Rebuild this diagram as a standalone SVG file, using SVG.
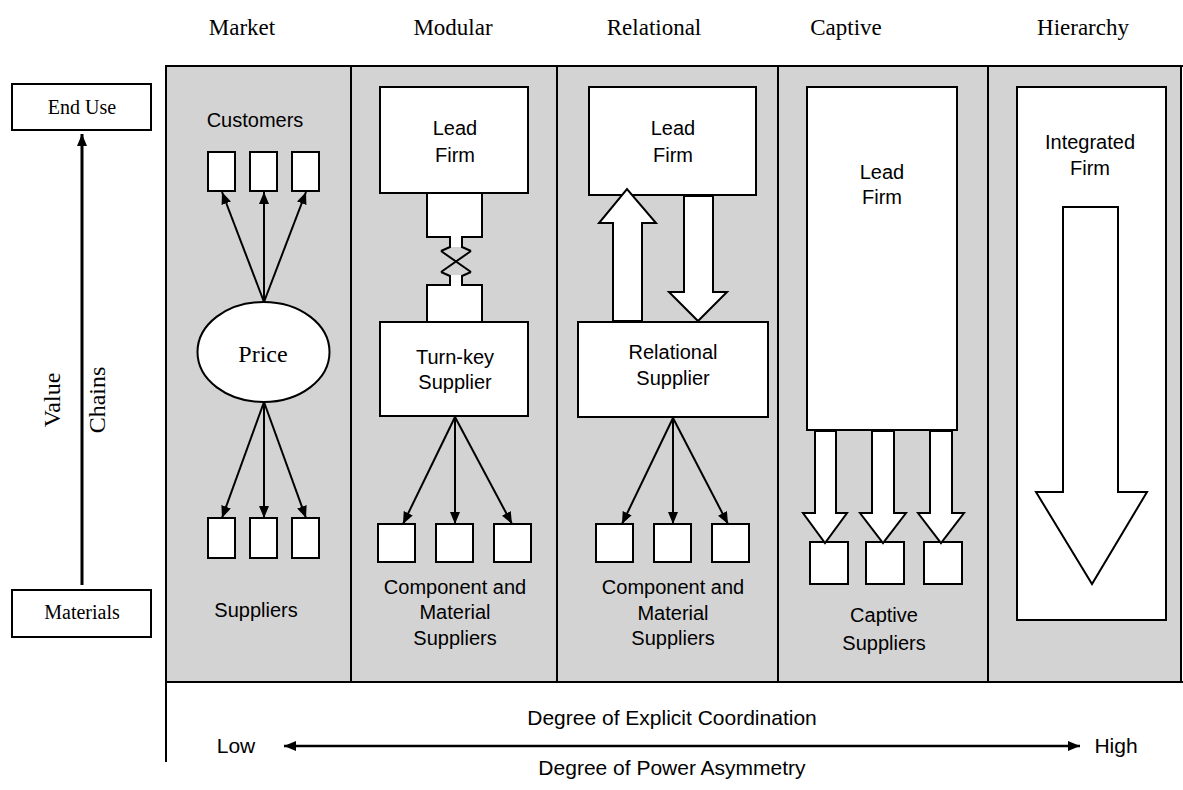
<svg xmlns="http://www.w3.org/2000/svg" width="1183" height="790" viewBox="0 0 1183 790">
<style>
.hdr{font-family:"Liberation Serif","Times New Roman",serif;font-size:23px;fill:#000;text-anchor:middle}
.ser{font-family:"Liberation Serif","Times New Roman",serif;fill:#000;text-anchor:middle}
.lbl{font-family:"Liberation Sans",Arial,sans-serif;font-size:20px;fill:#000;text-anchor:middle}
.bot{font-family:"Liberation Sans",Arial,sans-serif;font-size:21px;fill:#000;text-anchor:middle}
.box{fill:#fff;stroke:#000;stroke-width:2}
.hollow{fill:#fff;stroke:#000;stroke-width:2;stroke-linejoin:miter}
.conn{fill:none;stroke:#000;stroke-width:2}
.frame{fill:none;stroke:#000;stroke-width:2}
</style>
<defs>
<marker id="ah" viewBox="0 0 12 10" refX="12" refY="5" markerWidth="12" markerHeight="10" markerUnits="userSpaceOnUse" orient="auto-start-reverse">
<path d="M0,0 L12,5 L0,10 z" fill="#000"/>
</marker>
</defs>
<rect width="1183" height="790" fill="#fff"/>

<g id="headers">
<text class="hdr" x="242" y="35">Market</text>
<text class="hdr" x="453" y="35">Modular</text>
<text class="hdr" x="654" y="35">Relational</text>
<text class="hdr" x="846" y="35">Captive</text>
<text class="hdr" x="1083" y="35">Hierarchy</text>
</g>

<g id="frame">
<rect x="166" y="66" width="1016" height="616" fill="#d3d3d3"/>
<line class="frame" x1="166" y1="66" x2="1183" y2="66"/>
<line class="frame" x1="166" y1="682" x2="1183" y2="682"/>
<line class="frame" x1="166" y1="65" x2="166" y2="762"/>
<line class="frame" x1="351" y1="66" x2="351" y2="682"/>
<line class="frame" x1="557" y1="66" x2="557" y2="682"/>
<line class="frame" x1="778" y1="66" x2="778" y2="682"/>
<line class="frame" x1="988" y1="66" x2="988" y2="682"/>
<line class="frame" x1="1181" y1="66" x2="1181" y2="682"/>
</g>

<g id="axis-value-chains">
<g id="end-use"><rect class="box" x="12" y="84" width="139" height="46"/><text class="ser" x="82" y="114" font-size="20">End Use</text></g>
<g id="materials"><rect class="box" x="12" y="590" width="139" height="47"/><text class="ser" x="82" y="619" font-size="20">Materials</text></g>
<line x1="82" y1="585" x2="82" y2="134" stroke="#000" stroke-width="3" marker-end="url(#ah)"/>
<text class="ser" font-size="24" transform="translate(60,400) rotate(-90)">Value</text>
<text class="ser" font-size="24" transform="translate(105,400) rotate(-90)">Chains</text>
</g>

<g id="market">
<text class="lbl" x="255" y="127">Customers</text>
<g id="market-customers">
<rect class="box" x="208" y="152" width="27" height="39"/>
<rect class="box" x="250" y="152" width="27" height="39"/>
<rect class="box" x="292" y="152" width="27" height="39"/>
</g>
<g id="price"><ellipse class="box" cx="263.5" cy="352" rx="66" ry="50"/><text class="ser" x="263" y="362" font-size="24">Price</text></g>
<g id="market-suppliers">
<rect class="box" x="208" y="518" width="27" height="40"/>
<rect class="box" x="250" y="518" width="27" height="40"/>
<rect class="box" x="292" y="518" width="27" height="40"/>
</g>
<text class="lbl" x="256" y="617">Suppliers</text>
</g>

<g id="modular">
<g id="modular-lead"><rect class="box" x="380" y="87" width="148" height="106"/><text class="lbl" x="455" y="135">Lead</text><text class="lbl" x="455" y="162">Firm</text></g>
<g id="modular-link">
<rect x="428" y="194" width="53" height="42" fill="#fff"/>
<rect x="451" y="236" width="10" height="11" fill="#fff"/>
<path class="conn" d="M427,193 V237 H450 V247 L441,251 M482,193 V237 H462 V247 L471,251"/>
<path class="conn" d="M441,251 L471,272 M471,251 L441,272" stroke-width="2.5"/>
<rect x="451" y="275" width="10" height="11" fill="#fff"/>
<rect x="428" y="285" width="53" height="37" fill="#fff"/>
<path class="conn" d="M441,272 L450,276 V285 H427 V322 M471,272 L462,276 V285 H482 V322"/>
</g>
<g id="turnkey"><rect class="box" x="380" y="322" width="148" height="94"/><text class="lbl" x="455" y="364">Turn-key</text><text class="lbl" x="455" y="389">Supplier</text></g>
<g id="modular-suppliers">
<rect class="box" x="378" y="524" width="37" height="38"/>
<rect class="box" x="436" y="524" width="37" height="38"/>
<rect class="box" x="494" y="524" width="37" height="38"/>
</g>
<text class="lbl" x="455" y="594">Component and</text>
<text class="lbl" x="455" y="619">Material</text>
<text class="lbl" x="455" y="645">Suppliers</text>
</g>

<g id="relational">
<g id="relational-lead"><rect class="box" x="589" y="87" width="167" height="108"/><text class="lbl" x="673" y="135">Lead</text><text class="lbl" x="673" y="162">Firm</text></g>
<g id="relational-supplier"><rect class="box" x="578" y="322" width="190" height="95"/><text class="lbl" x="673" y="359">Relational</text><text class="lbl" x="673" y="385">Supplier</text></g>
<g id="relational-suppliers">
<rect class="box" x="596" y="524" width="37" height="38"/>
<rect class="box" x="654" y="524" width="37" height="38"/>
<rect class="box" x="712" y="524" width="37" height="38"/>
</g>
<text class="lbl" x="673" y="594">Component and</text>
<text class="lbl" x="673" y="620">Material</text>
<text class="lbl" x="673" y="645">Suppliers</text>
</g>

<g id="captive">
<g id="captive-lead"><rect class="box" x="807" y="87" width="150" height="343"/><text class="lbl" x="882" y="179">Lead</text><text class="lbl" x="882" y="204">Firm</text></g>
<g id="captive-suppliers">
<rect class="box" x="810" y="542" width="38" height="42"/>
<rect class="box" x="866" y="542" width="38" height="42"/>
<rect class="box" x="924" y="542" width="38" height="42"/>
</g>
<text class="lbl" x="884" y="622">Captive</text>
<text class="lbl" x="884" y="650">Suppliers</text>
</g>

<g id="hierarchy">
<g id="integrated-firm"><rect class="box" x="1017" y="87" width="149" height="533"/><text class="lbl" x="1090" y="149">Integrated</text><text class="lbl" x="1090" y="175">Firm</text></g>
</g>

<g id="connectors">
<line class="conn" x1="264" y1="302" x2="222" y2="192" marker-end="url(#ah)"/>
<line class="conn" x1="264" y1="302" x2="264" y2="192" marker-end="url(#ah)"/>
<line class="conn" x1="264" y1="302" x2="306" y2="192" marker-end="url(#ah)"/>
<line class="conn" x1="264" y1="402" x2="222" y2="518" marker-end="url(#ah)"/>
<line class="conn" x1="264" y1="402" x2="264" y2="518" marker-end="url(#ah)"/>
<line class="conn" x1="264" y1="402" x2="306" y2="518" marker-end="url(#ah)"/>
<line class="conn" x1="455" y1="417" x2="403" y2="524" marker-end="url(#ah)"/>
<line class="conn" x1="455" y1="417" x2="455" y2="524" marker-end="url(#ah)"/>
<line class="conn" x1="455" y1="417" x2="512" y2="524" marker-end="url(#ah)"/>
<line class="conn" x1="673" y1="418" x2="622" y2="524" marker-end="url(#ah)"/>
<line class="conn" x1="673" y1="418" x2="673" y2="524" marker-end="url(#ah)"/>
<line class="conn" x1="673" y1="418" x2="728" y2="524" marker-end="url(#ah)"/>
<polygon class="hollow" points="613,321 613,223 599,223 627,189 656,223 642,223 642,321"/>
<polygon class="hollow" points="684,196 684,292 669,292 698,321 727,292 713,292 713,196"/>
<polygon class="hollow" points="815,431 815,513 803,513 825,543 847,513 836,513 836,431"/>
<polygon class="hollow" points="872,431 872,513 860,513 883,543 906,513 894,513 894,431"/>
<polygon class="hollow" points="930,431 930,513 918,513 941,543 964,513 952,513 952,431"/>
<polygon class="hollow" points="1063,207 1063,492 1036,492 1092,584 1147,492 1118,492 1118,207"/>
</g>

<g id="scale">
<text class="bot" x="672" y="725">Degree of Explicit Coordination</text>
<line x1="284" y1="746" x2="1080" y2="746" stroke="#000" stroke-width="2.5" marker-start="url(#ah)" marker-end="url(#ah)"/>
<text class="bot" x="236" y="753">Low</text>
<text class="bot" x="1116" y="753">High</text>
<text class="bot" x="672" y="775">Degree of Power Asymmetry</text>
</g>
</svg>
